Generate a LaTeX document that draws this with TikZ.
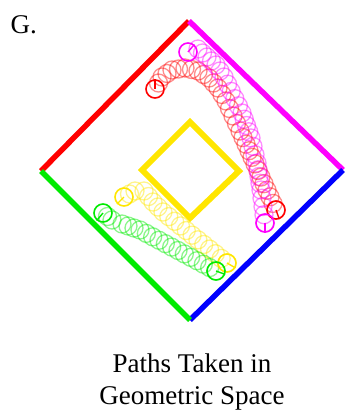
\documentclass[tikz,border=0pt]{standalone}
\usepackage{fontspec}
\setmainfont{Liberation Serif}
\usetikzlibrary{calc}

\definecolor{edgered}{RGB}{255,0,0}
\definecolor{edgemag}{RGB}{255,0,255}
\definecolor{edgeblue}{RGB}{0,0,255}
\definecolor{edgegreen}{RGB}{0,235,0}
\definecolor{edgeyellow}{RGB}{255,230,0}

% faint circles every ~7.5pt along a polyline given as ax/ay/bx/by segments
\newcommand\drawtrail[2]{%
  \foreach \ax/\ay/\bx/\by in {#2} {
    \pgfmathtruncatemacro\nsteps{max(1,round(veclen(\bx-\ax,\by-\ay)/7.5))}
    \foreach \i in {1,...,\nsteps}
      \draw[trail=#1] ($(\ax,\ay)!\i/\nsteps!(\bx,\by)$) circle[radius=9pt];
  }}

\begin{document}
\begin{tikzpicture}[
  x=1pt, y=-1pt,
  wall/.style={line width=5.5pt},
  trail/.style={#1, draw opacity=0.45, line width=1.3pt},
  ring/.style={circle, draw=#1, line width=1.6pt, minimum size=18pt, inner sep=0pt},
  tick/.style={#1, line width=1.4pt},
]
  \useasboundingbox (0,0) rectangle (345,415);

  % outer square, one colour per side
  \coordinate (top) at (189,21);
  \coordinate (right) at (343,170);
  \coordinate (bottom) at (190,320);
  \coordinate (left) at (41,171);
  \draw[wall, edgered] (left) -- (top);
  \draw[wall, edgemag] (top) -- (right);
  \draw[wall, edgeblue] (right) -- (bottom);
  \draw[wall, edgegreen] (bottom) -- (left);

  % obstacle in the middle
  \draw[wall, edgeyellow, line width=6pt] (190,122) -- (239,171) -- (190,218) -- (142,170) -- cycle;

  % trails
  \drawtrail{edgered}{155/89/162/77, 162/77/172/70, 172/70/185/68,
    185/68/198/71, 198/71/209/78, 209/78/218/88, 218/88/226/101, 226/101/240/131,
    240/131/276/210}
  \drawtrail{edgemag}{188/52/198/49, 198/49/207/57, 207/57/216/65,
    216/65/224/77, 224/77/242/113, 242/113/251/138, 251/138/257/163,
    257/163/261/190, 261/190/265/223}
  \drawtrail{edgeyellow}{124/197/135/191, 135/191/144/191,
    144/191/153/202, 153/202/163/212, 163/212/227/263}
  \drawtrail{edgegreen}{103/213/112/220, 112/220/122/224,
    122/224/140/230, 140/230/216/271}

  % start and end poses
  \node[ring=edgered] (redA) at (155,89) {};
  \node[ring=edgered] (redB) at (276,210) {};
  \node[ring=edgemag] (magA) at (188,52) {};
  \node[ring=edgemag] (magB) at (265,223) {};
  \node[ring=edgeyellow] (yelA) at (124,197) {};
  \node[ring=edgeyellow] (yelB) at (227,263) {};
  \node[ring=edgegreen] (grnA) at (103,213) {};
  \node[ring=edgegreen] (grnB) at (216,271) {};
  \draw[tick=edgered] (redA.center) -- (redA.north);
  \draw[tick=edgered] (redB.center) -- (redB.-70);
  \draw[tick=edgemag] (magA.center) -- (magA.50);
  \draw[tick=edgemag] (magB.center) -- (magB.south);
  \draw[tick=edgeyellow] (yelA.center) -- (yelA.-135);
  \draw[tick=edgeyellow] (yelB.center) -- (yelB.-30);
  \draw[tick=edgegreen] (grnA.center) -- (grnA.-130);
  \draw[tick=edgegreen] (grnB.center) -- (grnB.-20);

  \node[anchor=base west, font=\fontsize{27}{32}\selectfont] (panel) at (7,33) {G.};
  \node[align=center, font=\fontsize{27}{32}\selectfont] (caption) at (192,382)
    {Paths Taken in\\Geometric Space};
\end{tikzpicture}
\end{document}
